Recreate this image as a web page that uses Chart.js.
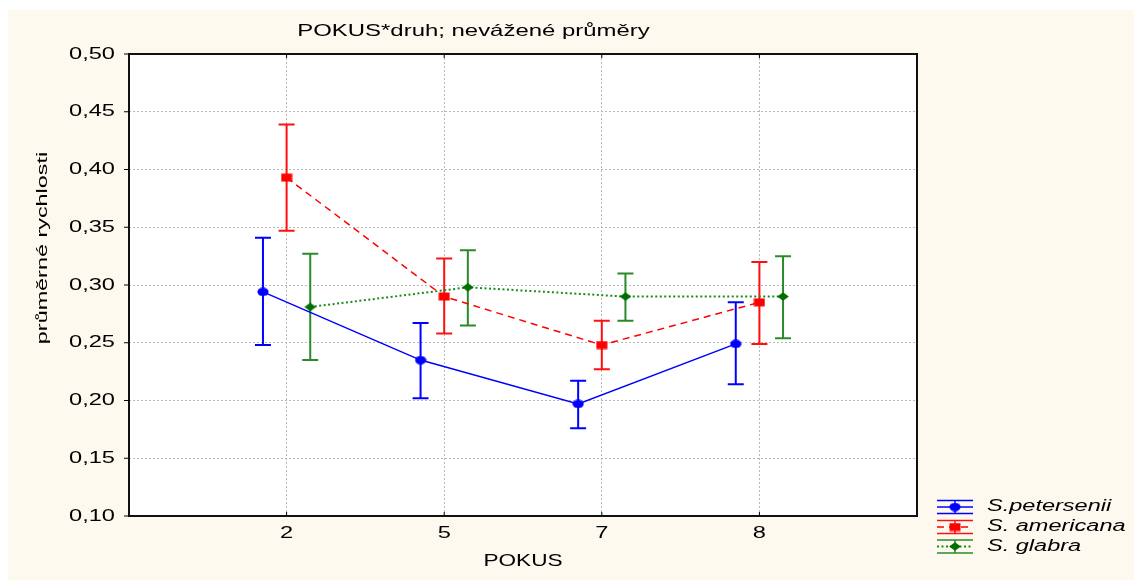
<!DOCTYPE html>
<html>
<head>
<meta charset="utf-8">
<title>POKUS*druh; nevážené průměry</title>
<script src="https://cdn.jsdelivr.net/npm/chart.js@4.4.1/dist/chart.umd.min.js"></script>
<style>
  html, body { margin: 0; padding: 0; background: #ffffff; }
  canvas { display: block; }
</style>
</head>
<body>
<canvas id="chart" width="1134" height="580"></canvas>
<script>
// POKUS levels (x categories) and y-axis ticks
const categories = ['2', '5', '7', '8'];
const yTicks = [0.10, 0.15, 0.20, 0.25, 0.30, 0.35, 0.40, 0.45, 0.50];

// unweighted means with upper / lower interval limits per species
const petersenii   = [0.294, 0.235, 0.197, 0.249];
const peterseniiHi = [0.341, 0.267, 0.217, 0.285];
const peterseniiLo = [0.248, 0.202, 0.176, 0.214];

const americana    = [0.393, 0.290, 0.248, 0.285];
const americanaHi  = [0.439, 0.323, 0.269, 0.320];
const americanaLo  = [0.347, 0.258, 0.227, 0.249];

const glabra       = [0.281, 0.298, 0.290, 0.290];
const glabraHi     = [0.327, 0.330, 0.310, 0.325];
const glabraLo     = [0.235, 0.265, 0.269, 0.254];

const FONT = '"Liberation Sans", Arial, Helvetica, sans-serif';

// small bitmap markers (slightly wider than tall)
function markerCanvas(shape, color) {
  const c = document.createElement('canvas');
  c.width = 12; c.height = 9;
  const g = c.getContext('2d');
  g.fillStyle = color;
  g.beginPath();
  if (shape === 'ellipse') {
    g.ellipse(6, 4.5, 5.6, 4.2, 0, 0, Math.PI * 2);
  } else if (shape === 'rect') {
    g.rect(0.5, 0.5, 11, 8);
  } else {
    g.moveTo(6, 0.2); g.lineTo(11.8, 4.5); g.lineTo(6, 8.8); g.lineTo(0.2, 4.5); g.closePath();
  }
  g.fill();
  return c;
}

const series = [
  { label: 'S.petersenii', mean: petersenii, hi: peterseniiHi, lo: peterseniiLo, shift: -0.15,
    line: '#0000ff', bar: '#0000ff', marker: markerCanvas('ellipse', '#0000ff'), dash: [], width: 1.5 },
  { label: 'S. americana', mean: americana, hi: americanaHi, lo: americanaLo, shift: 0,
    line: '#ff0000', bar: '#ff1010', marker: markerCanvas('rect', '#ff0000'), dash: [7, 5], width: 1.5 },
  { label: 'S. glabra', mean: glabra, hi: glabraHi, lo: glabraLo, shift: 0.15,
    line: '#1a8c1a', bar: '#2a8a2a', marker: markerCanvas('diamond', '#006e00'), dash: [2, 2.5], width: 2 }
];

// text drawn wide along its baseline
function wideText(ctx, text, x, y, font, sx, align, color, angle) {
  ctx.save();
  ctx.font = font;
  ctx.fillStyle = color || '#000';
  ctx.textBaseline = 'middle';
  ctx.textAlign = align;
  ctx.translate(x, y);
  if (angle) ctx.rotate(angle);
  ctx.scale(sx, 1);
  ctx.fillText(text, 0, 0);
  ctx.restore();
}

const background = {
  id: 'background',
  beforeDraw(chart) {
    const { ctx, chartArea: a } = chart;
    ctx.save();
    ctx.fillStyle = '#ffffff';
    ctx.fillRect(0, 0, chart.width, chart.height);
    ctx.fillStyle = '#fdf9ee';
    ctx.fillRect(8, 10, chart.width - 8, chart.height - 10);
    ctx.fillStyle = '#ffffff';
    ctx.fillRect(a.left, a.top, a.right - a.left, a.bottom - a.top);
    ctx.restore();
  }
};

const errorBars = {
  id: 'errorBars',
  beforeDatasetsDraw(chart) {
    const { ctx } = chart;
    const ys = chart.scales.y;
    ctx.save();
    series.forEach((s, k) => {
      const meta = chart.getDatasetMeta(k);
      ctx.strokeStyle = s.bar;
      ctx.lineWidth = 2;
      ctx.setLineDash([]);
      meta.data.forEach((pt, i) => {
        const x = pt.x;
        const yH = ys.getPixelForValue(s.hi[i]);
        const yL = ys.getPixelForValue(s.lo[i]);
        ctx.beginPath();
        ctx.moveTo(x, yH); ctx.lineTo(x, yL);
        ctx.moveTo(x - 8, yH); ctx.lineTo(x + 8, yH);
        ctx.moveTo(x - 8, yL); ctx.lineTo(x + 8, yL);
        ctx.stroke();
      });
    });
    ctx.restore();
  }
};

const decorations = {
  id: 'decorations',
  afterDraw(chart) {
    const { ctx, chartArea: a } = chart;
    const xs = chart.scales.x, ys = chart.scales.y;
    ctx.save();

    // plot frame
    ctx.strokeStyle = '#101010';
    ctx.lineWidth = 2;
    ctx.setLineDash([]);
    ctx.strokeRect(a.left, a.top, a.right - a.left, a.bottom - a.top);

    // tick marks
    ctx.lineWidth = 1;
    ctx.strokeStyle = '#000';
    ctx.beginPath();
    yTicks.forEach(v => {
      const y = ys.getPixelForValue(v);
      ctx.moveTo(a.left - 5, y); ctx.lineTo(a.left, y);
    });
    categories.forEach((c, i) => {
      const x = xs.getPixelForValue(i + 1);
      ctx.moveTo(x, a.bottom); ctx.lineTo(x, a.bottom - 4);
      ctx.moveTo(x, a.top); ctx.lineTo(x, a.top + 4);
    });
    ctx.stroke();

    // tick labels
    const tickFont = '17px ' + FONT;
    yTicks.forEach(v => {
      wideText(ctx, v.toFixed(2).replace('.', ','), a.left - 14, ys.getPixelForValue(v), tickFont, 1.39, 'right');
    });
    categories.forEach((c, i) => {
      wideText(ctx, c, xs.getPixelForValue(i + 1), a.bottom + 17, tickFont, 1.39, 'center');
    });

    // titles
    wideText(ctx, 'POKUS*druh; nevážené průměry', 473.5, 31, '16.5px ' + FONT, 1.45, 'center');
    wideText(ctx, 'POKUS', (a.left + a.right) / 2, 561, '17px ' + FONT, 1.33, 'center');
    wideText(ctx, 'průměrné rychlosti', 43.5, 248, '14px ' + FONT, 1.67, 'center', '#000', -Math.PI / 2);

    // legend
    const rows = [507, 527, 546.5];
    series.forEach((s, k) => {
      const cy = rows[k];
      ctx.strokeStyle = s.bar;
      ctx.lineWidth = 1.5;
      ctx.setLineDash([]);
      ctx.beginPath();
      ctx.moveTo(937, cy - 6.5); ctx.lineTo(973, cy - 6.5);
      ctx.moveTo(937, cy + 6.5); ctx.lineTo(973, cy + 6.5);
      ctx.moveTo(955, cy - 6.5); ctx.lineTo(955, cy + 6.5);
      ctx.stroke();
      ctx.strokeStyle = s.line;
      ctx.lineWidth = s.width;
      ctx.setLineDash(s.dash);
      ctx.beginPath();
      ctx.moveTo(937, cy); ctx.lineTo(973, cy);
      ctx.stroke();
      ctx.setLineDash([]);
      ctx.drawImage(s.marker, 955 - s.marker.width / 2, cy - s.marker.height / 2);
      wideText(ctx, s.label, 987, cy, 'italic 16px ' + FONT, 1.47, 'left');
    });

    ctx.restore();
  }
};

const gridStyle = { color: '#b8b8b8', lineWidth: 1, drawTicks: false };

new Chart(document.getElementById('chart'), {
  type: 'line',
  data: {
    datasets: series.map(s => ({
      label: s.label,
      data: s.mean.map((v, i) => ({ x: i + 1 + s.shift, y: v })),
      borderColor: s.line,
      backgroundColor: s.line,
      borderWidth: s.width,
      borderDash: s.dash,
      pointStyle: s.marker,
      pointRadius: 5,
      pointHoverRadius: 5,
      tension: 0,
      fill: false
    }))
  },
  options: {
    responsive: false,
    devicePixelRatio: 1,
    animation: false,
    events: [],
    layout: { padding: { top: 54, right: 217, left: 0, bottom: 0 } },
    plugins: {
      legend: { display: false },
      title: { display: false },
      tooltip: { enabled: false }
    },
    scales: {
      x: {
        type: 'linear',
        min: 0, max: 5,
        afterBuildTicks: s => { s.ticks = categories.map((c, i) => ({ value: i + 1 })); },
        afterFit: s => { s.height = 64; },
        ticks: { display: false },
        grid: gridStyle,
        border: { display: false, dash: [2, 2] }
      },
      y: {
        type: 'linear',
        min: 0.10, max: 0.50,
        afterBuildTicks: s => { s.ticks = yTicks.map(v => ({ value: v })); },
        afterFit: s => { s.width = 129; },
        ticks: { display: false },
        grid: gridStyle,
        border: { display: false, dash: [2, 2] }
      }
    }
  },
  plugins: [background, errorBars, decorations]
});
</script>
</body>
</html>
